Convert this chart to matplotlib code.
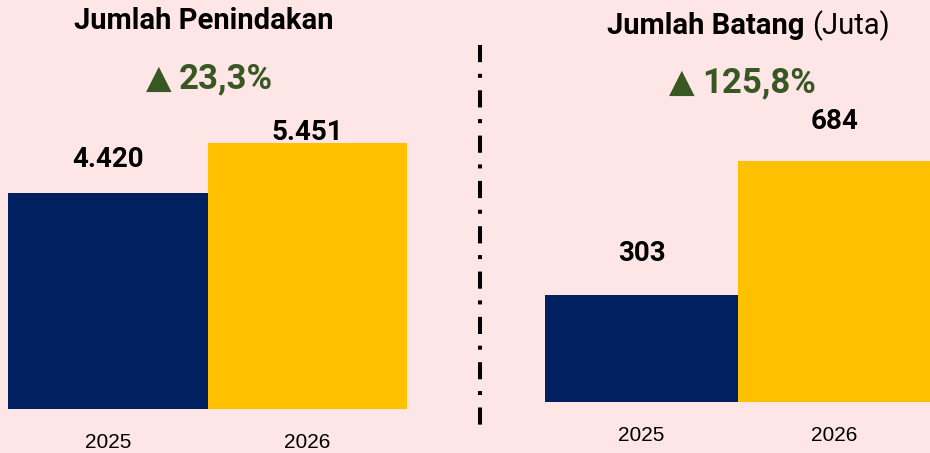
import matplotlib
matplotlib.use('Agg')
import matplotlib.pyplot as plt
from matplotlib.lines import Line2D

years = ['2025', '2026']
penindakan = [4420, 5451]
batang = [303, 684]
labels_penindakan = ['4.420', '5.451']
labels_batang = ['303', '684']
growth_penindakan = '23,3%'
growth_batang = '125,8%'
arrow = '\u25B2'

bg = '#FEE5E6'
navy = '#002060'
gold = '#FFC000'
green = '#385723'
plt.rcParams['font.family'] = ['Roboto', 'DejaVu Sans']

W, H = 930, 453
fig = plt.figure(figsize=(W / 100, H / 100), dpi=100, facecolor=bg)


def px(x0, y0, x1, y1):
    # pixel box (top-left origin) -> figure fraction rect
    return [x0 / W, 1 - y1 / H, (x1 - x0) / W, (y1 - y0) / H]


def fy(y):
    return 1 - y / H


def panel(rect, values, top, labels, offsets):
    ax = fig.add_axes(rect)
    ax.set_facecolor('none')
    ax.bar([0, 1], values, width=1.0, color=[navy, gold])
    ax.set_xlim(-0.5, 1.5)
    ax.set_ylim(0, top)
    ax.axis('off')
    for i, v in enumerate(values):
        ax.annotate(labels[i], (i, v), xytext=(0, offsets[i] * 0.72),
                    textcoords='offset points', ha='center', va='baseline',
                    fontsize=20, fontweight='bold', color='black',
                    annotation_clip=False)
        ax.annotate(years[i], (i, 0), xytext=(0, -39 * 0.72),
                    textcoords='offset points', ha='center', va='baseline',
                    fontsize=15, color='black', family=['Liberation Sans'],
                    annotation_clip=False)
    return ax


def growth(x_split, y, txt):
    # triangle + percentage, small gap between them
    fig.text((x_split - 3) / W, fy(y), arrow, ha='right', va='baseline',
             fontsize=24, color=green, family=['DejaVu Sans'])
    fig.text((x_split + 4) / W, fy(y), txt, ha='left', va='baseline',
             fontsize=25, fontweight='bold', color=green)


# left: bars 8..407 px, baseline y=409
panel(px(8, 0, 407, 409), penindakan, 5451 * 409 / 266, labels_penindakan, [26, 3])
# right: bars 545..930 px, baseline y=402
panel(px(545, 0, 931, 402), batang, 684 * 402 / 241, labels_batang, [34, 32])

fig.text(203.5 / W, fy(29), 'Jumlah Penindakan', ha='center', va='baseline',
         fontsize=21, fontweight='bold')
growth(175, 88, growth_penindakan)

fig.text(812 / W, fy(34), 'Jumlah Batang ', ha='right', va='baseline',
         fontsize=21, fontweight='bold')
fig.text(812 / W, fy(34), '(Juta)', ha='left', va='baseline', fontsize=21)
growth(698, 92, growth_batang)

# dash-dot divider
fig.add_artist(Line2D([480 / W, 480 / W], [fy(45), fy(430)],
                      transform=fig.transFigure, color='black', lw=2.9,
                      dashes=(4.25, 2.9, 1, 3.1), dash_capstyle='butt'))

fig.savefig('out.png', dpi=100, facecolor=bg)
